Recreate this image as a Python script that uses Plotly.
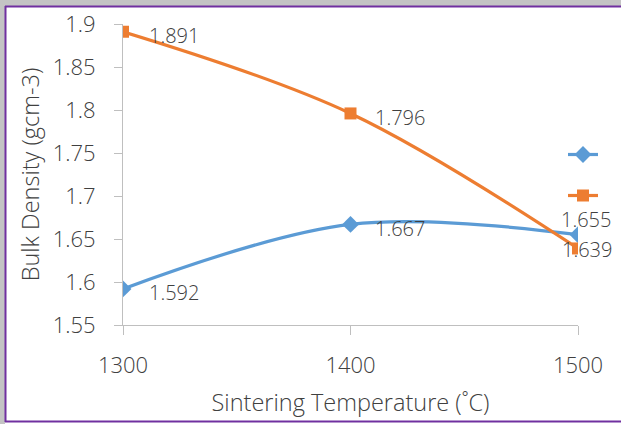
import plotly.graph_objects as go

# Sintering temperature (°C) and measured bulk density (g cm^-3)
temperatures = [1300, 1400, 1500]
density_a = [1.592, 1.667, 1.655]
density_b = [1.891, 1.796, 1.639]
y_ticks = [1.55, 1.6, 1.65, 1.7, 1.75, 1.8, 1.85, 1.9]
x_ticks = [1300, 1400, 1500]

BLUE = "#5B9BD5"
ORANGE = "#ED7D31"
AXIS = "#BFBFBF"
TEXT = "#404040"
FONT = "Open Sans"

W, H = 621, 424
ML, MR, MT, MB = 123, 43, 24, 99
PW, PH = W - ML - MR, H - MT - MB


def px_x(px):
    return (px - ML) / PW


def px_y(py):
    return (H - MB - py) / PH


fig = go.Figure()
fig.add_trace(go.Scatter(
    x=temperatures, y=density_a, name=" ", mode="lines+markers",
    line=dict(color=BLUE, width=3.2, shape="spline", smoothing=1.0),
    marker=dict(symbol="diamond", size=13, color=BLUE),
    legendgroup="a",
))
fig.add_trace(go.Scatter(
    x=temperatures, y=density_b, name=" ", mode="lines+markers",
    line=dict(color=ORANGE, width=3.2, shape="spline", smoothing=1.0),
    marker=dict(symbol="square", size=12, color=ORANGE),
    legendgroup="b",
))

# value labels beside each point (offsets in pixels)
offsets_a = [(24, -4, "left"), (22, -4, "left"), (8, 15, "center")]
offsets_b = [(24, -4, "left"), (22, -4, "left"), (9, -1, "center")]
annotations = []
for xs, ys, offs in ((temperatures, density_a, offsets_a),
                     (temperatures, density_b, offsets_b)):
    for xv, yv, (dx, dy, anchor) in zip(xs, ys, offs):
        annotations.append(dict(
            x=xv, y=yv, xref="x", yref="y", text=f"{yv:.3f}",
            showarrow=False, xanchor=anchor, yanchor="middle",
            xshift=dx, yshift=dy,
            font=dict(family=FONT, size=20, color=TEXT, weight=300),
        ))

shapes = [
    # soft grey shadow along the top and left edges
    dict(type="rect", xref="paper", yref="paper",
         x0=px_x(0), x1=px_x(W), y0=px_y(6), y1=px_y(0),
         fillcolor="#C4C4C4", line=dict(width=0), layer="below"),
    dict(type="rect", xref="paper", yref="paper",
         x0=px_x(0), x1=px_x(5), y0=px_y(H), y1=px_y(0),
         fillcolor="#C4C4C4", line=dict(width=0), layer="below"),
    # purple chart-area frame
    dict(type="line", xref="paper", yref="paper",
         x0=px_x(5), x1=px_x(W), y0=px_y(6.5), y1=px_y(6.5),
         line=dict(color="#7030A0", width=2)),
    dict(type="line", xref="paper", yref="paper",
         x0=px_x(5.5), x1=px_x(5.5), y0=px_y(6), y1=px_y(422),
         line=dict(color="#7030A0", width=2)),
    dict(type="line", xref="paper", yref="paper",
         x0=px_x(5), x1=px_x(W), y0=px_y(421.5), y1=px_y(421.5),
         line=dict(color="#7030A0", width=2)),
]

tick_font = dict(family=FONT, size=22, color=TEXT, weight=300)
title_font = dict(family=FONT, size=23.5, color=TEXT, weight=300)

fig.update_layout(
    width=W, height=H,
    margin=dict(l=ML, r=MR, t=MT, b=MB, autoexpand=False),
    paper_bgcolor="white", plot_bgcolor="white",
    font=dict(family=FONT, size=20, color=TEXT),
    showlegend=True,
    legend=dict(x=px_x(563), y=px_y(135), xanchor="left", yanchor="top",
                bgcolor="rgba(0,0,0,0)", font=dict(size=20),
                traceorder="grouped", tracegroupgap=12),
    annotations=annotations,
    shapes=shapes,
    xaxis=dict(
        range=[1300, 1500], tickvals=x_ticks, ticktext=[str(v) for v in x_ticks],
        showline=True, linecolor=AXIS, linewidth=1,
        ticks="outside", ticklen=9, tickcolor=AXIS, tickwidth=1,
        showgrid=False, zeroline=False, automargin=False,
        tickfont=tick_font,
        ticklabelstandoff=12,
        title=dict(text="Sintering Temperature (˚C)", standoff=16,
                   font=title_font),
    ),
    yaxis=dict(
        range=[1.55, 1.9], tickvals=y_ticks,
        ticktext=[f"{v:g}" for v in y_ticks],
        showline=True, linecolor=AXIS, linewidth=1,
        ticks="outside", ticklen=8, tickcolor=AXIS, tickwidth=1,
        showgrid=False, zeroline=False, automargin=False,
        tickfont=tick_font,
        ticklabelstandoff=14,
        title=dict(text="Bulk Density (gcm-3)", standoff=6,
                   font=title_font),
    ),
)

fig.write_html("out.html")
